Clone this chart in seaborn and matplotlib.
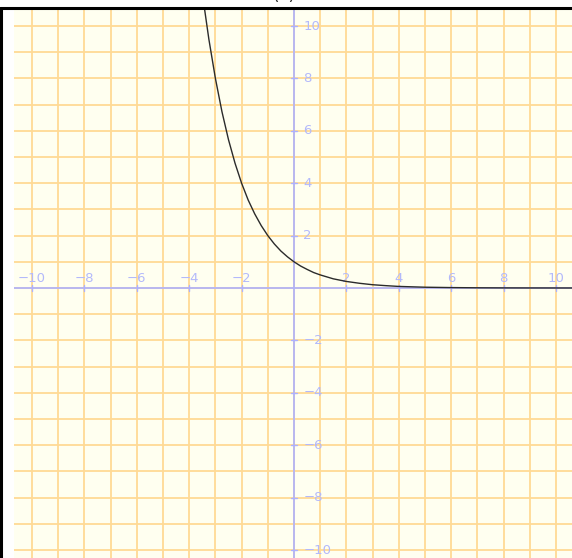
import numpy as np
import pandas as pd
import matplotlib
matplotlib.use("Agg")
import matplotlib.pyplot as plt
import seaborn as sns
from matplotlib.lines import Line2D

# curve points
curve_x = [-3.45, -3.25, -3.0, -2.75, -2.5, -2.25, -2.0, -1.75, -1.5, -1.25, -1.0,
           -0.75, -0.5, -0.25, 0.0, 0.25, 0.5, 0.75, 1.0, 1.5, 2.0, 2.5, 3.0, 3.5,
           4.0, 5.0, 6.0, 7.0, 8.0, 9.0, 10.0, 11.0]
curve_y = [10.9, 9.5, 8.0, 6.73, 5.66, 4.76, 4.0, 3.36, 2.83, 2.38, 2.0,
           1.68, 1.41, 1.19, 1.0, 0.84, 0.71, 0.59, 0.5, 0.35, 0.25, 0.18, 0.125, 0.09,
           0.06, 0.03, 0.016, 0.008, 0.004, 0.002, 0.001, 0.0005]
x_tick_vals = [-10, -8, -6, -4, -2, 2, 4, 6, 8, 10]
y_tick_vals = [-10, -8, -6, -4, -2, 2, 4, 6, 8, 10]
grid_vals = list(range(-11, 12))
title_text = "(a)"

sns.set_theme(style="white")
plt.rcParams['font.family'] = ['DejaVu Sans']

W, H = 572, 558
fig = plt.figure(figsize=(W / 100, H / 100), dpi=100)
fig.patch.set_facecolor("white")

# axes: 26.2 px per unit, x=0 at px 294, y=0 at px 288
ppu = 26.2
left_px, top_px = 14, 9
x0_px, y0_px = 294, 288
right_px = 574
bottom_px = 568
xmin = (left_px - x0_px) / ppu
xmax = (right_px - x0_px) / ppu
ymax = (y0_px - top_px) / ppu
ymin = (y0_px - bottom_px) / ppu
ax = fig.add_axes([left_px / W, 1 - bottom_px / H, (right_px - left_px) / W,
                   (bottom_px - top_px) / H])
ax.set_facecolor("#fffff0")
ax.set_xlim(xmin, xmax)
ax.set_ylim(ymin, ymax)
for s in ax.spines.values():
    s.set_visible(False)
ax.set_xticks([])
ax.set_yticks([])

grid_c = "#ffda95"
for g in grid_vals:
    ax.axvline(g, color=grid_c, lw=1.3, zorder=1)
    ax.axhline(g, color=grid_c, lw=1.3, zorder=1)

axis_c = "#adb1ff"
ax.axhline(0, color=axis_c, lw=1.2, zorder=2)
ax.axvline(0, color=axis_c, lw=1.2, zorder=2)

label_c = "#b3b9fb"
tk = 3 / ppu
for v in x_tick_vals:
    ax.plot([v, v], [-tk, tk], color=axis_c, lw=1.0, zorder=2)
    ax.text(v, 0.36, "\u2212" + str(-v) if v < 0 else str(v), ha="center", va="center",
            color=label_c, fontsize=9.5, zorder=3)
for v in y_tick_vals:
    ax.plot([-tk, tk], [v, v], color=axis_c, lw=1.0, zorder=2)
    ax.text(0.36, v, "\u2212" + str(-v) if v < 0 else str(v), ha="left", va="center",
            color=label_c, fontsize=9.5, zorder=3)

df = pd.DataFrame({"x": curve_x, "y": curve_y})
sns.lineplot(data=df, x="x", y="y", ax=ax, color="#2b2b2b", lw=1.0, sort=False,
             estimator=None, zorder=4)
ax.set_xlabel("")
ax.set_ylabel("")

# outer black frame (top and left)
fig.add_artist(Line2D([0, 1], [1 - 8 / H, 1 - 8 / H], color="black", lw=2.2,
                      transform=fig.transFigure))
fig.add_artist(Line2D([1 / W, 1 / W], [0, 1 - 8 / H], color="black", lw=2.2,
                      transform=fig.transFigure))

# title is cut off at the top edge, as in the reference
fig.text(284 / W, 1 + 0.5 / H, title_text, ha="center", va="baseline",
         fontsize=12, color="#222222")

fig.savefig("out.png", dpi=100)
